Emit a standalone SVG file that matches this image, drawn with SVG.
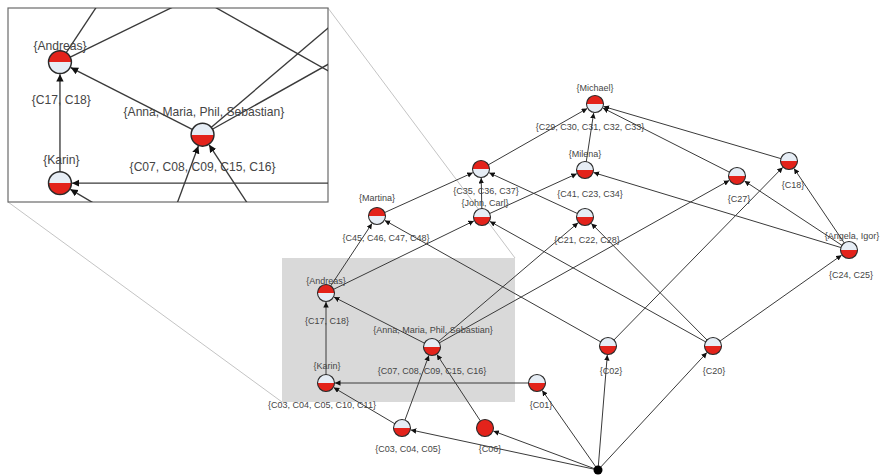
<svg xmlns="http://www.w3.org/2000/svg" width="883" height="476" viewBox="0 0 883 476">
<defs>
<style>
.e{stroke:#3a3a3a;stroke-width:1;fill:none;marker-end:url(#ah)}
.n{stroke:#2a2a2a;stroke-width:1.1}
.t{font-family:"Liberation Sans",Arial,sans-serif;font-size:9px;fill:#454545;text-anchor:middle}
.g{stroke:#c4c4c4;stroke-width:1;fill:none}
</style>
<linearGradient id="redTop" x1="0" y1="0" x2="0" y2="1">
<stop offset="0" stop-color="#e3231b"/><stop offset="0.5" stop-color="#e3231b"/><stop offset="0.5" stop-color="#e6edf5"/><stop offset="1" stop-color="#e6edf5"/>
</linearGradient>
<linearGradient id="redBot" x1="0" y1="0" x2="0" y2="1">
<stop offset="0" stop-color="#e6edf5"/><stop offset="0.5" stop-color="#e6edf5"/><stop offset="0.5" stop-color="#e3231b"/><stop offset="1" stop-color="#e3231b"/>
</linearGradient>
<marker id="ah" markerUnits="userSpaceOnUse" markerWidth="6" markerHeight="6" refX="5.5" refY="2.75" orient="auto">
<path d="M0,0 L5.5,2.75 L0,5.5 z" fill="#111"/>
</marker>
<clipPath id="insetClip"><rect x="8" y="8" width="320" height="194"/></clipPath>
</defs>

<rect id="focus-area" x="282" y="258" width="233" height="144" fill="#d9d9d9"/>
<g id="zoom-guides">
<line class="g" x1="328" y1="8" x2="515" y2="258"/>
<line class="g" x1="8" y1="202" x2="282" y2="402"/>
</g>

<g id="connectors">
<line class="e" x1="598" y1="470" x2="410.8" y2="429.9"/>
<line class="e" x1="598" y1="470" x2="493.4" y2="431.1"/>
<line class="e" x1="598" y1="470" x2="542.2" y2="390.4"/>
<line class="e" x1="598" y1="470" x2="607.3" y2="355"/>
<line class="e" x1="598" y1="470" x2="706.9" y2="352.6"/>
<line class="e" x1="402" y1="428" x2="333.7" y2="387.6"/>
<line class="e" x1="402" y1="428" x2="428.9" y2="355.4"/>
<line class="e" x1="485" y1="428" x2="436.9" y2="354.5"/>
<line class="e" x1="537" y1="383" x2="335" y2="383"/>
<line class="e" x1="326" y1="383" x2="326" y2="302"/>
<line class="e" x1="432" y1="347" x2="334" y2="297.1"/>
<line class="e" x1="432" y1="347" x2="578.1" y2="222.8"/>
<line class="e" x1="432" y1="347" x2="729.2" y2="180.4"/>
<line class="e" x1="326" y1="293" x2="372" y2="223.5"/>
<line class="e" x1="326" y1="293" x2="473.9" y2="220.9"/>
<line class="e" x1="608" y1="346" x2="384.8" y2="220.4"/>
<line class="e" x1="608" y1="346" x2="782.7" y2="167.4"/>
<line class="e" x1="713" y1="346" x2="489.9" y2="221.4"/>
<line class="e" x1="713" y1="346" x2="591.3" y2="223.4"/>
<line class="e" x1="713" y1="346" x2="841.6" y2="255.2"/>
<line class="e" x1="482" y1="217" x2="481.2" y2="178"/>
<line class="e" x1="482" y1="217" x2="576.8" y2="173.7"/>
<line class="e" x1="585" y1="217" x2="489.2" y2="172.8"/>
<line class="e" x1="377" y1="216" x2="472.8" y2="172.7"/>
<line class="e" x1="849" y1="250" x2="593.6" y2="172.6"/>
<line class="e" x1="849" y1="250" x2="744.5" y2="181"/>
<line class="e" x1="849" y1="250" x2="794" y2="168.5"/>
<line class="e" x1="481" y1="169" x2="587.2" y2="108.5"/>
<line class="e" x1="585" y1="170" x2="593.7" y2="112.9"/>
<line class="e" x1="737" y1="176" x2="603" y2="108.1"/>
<line class="e" x1="789" y1="161" x2="603.6" y2="106.5"/>
</g>

<g id="node-michael"><circle class="n" cx="595" cy="104" r="8.5" fill="url(#redTop)"/><text class="t" x="595" y="91">{Michael}</text><text class="t" x="590" y="130">{C29, C30, C31, C32, C33}</text></g>
<g id="node-milena"><circle class="n" cx="585" cy="170" r="8.5" fill="url(#redBot)"/><text class="t" x="585" y="157">{Milena}</text><text class="t" x="590" y="197">{C41, C23, C34}</text></g>
<g id="node-c35"><circle class="n" cx="481" cy="169" r="8.5" fill="url(#redTop)"/><text class="t" x="486" y="194">{C35, C36, C37}</text></g>
<g id="node-john-carl"><circle class="n" cx="482" cy="217" r="8.5" fill="url(#redBot)"/><text class="t" x="485" y="206">{John, Carl}</text></g>
<g id="node-c21"><circle class="n" cx="585" cy="217" r="8.5" fill="url(#redBot)"/><text class="t" x="587" y="243">{C21, C22, C28}</text></g>
<g id="node-martina"><circle class="n" cx="377" cy="216" r="8.5" fill="url(#redTop)"/><text class="t" x="377" y="201">{Martina}</text><text class="t" x="386" y="241">{C45, C46, C47, C48}</text></g>
<g id="node-andreas"><circle class="n" cx="326" cy="293" r="8.5" fill="url(#redTop)"/><text class="t" x="326" y="284">{Andreas}</text><text class="t" x="327" y="324">{C17, C18}</text></g>
<g id="node-anna"><circle class="n" cx="432" cy="347" r="8.5" fill="url(#redBot)"/><text class="t" x="433" y="333">{Anna, Maria, Phil, Sebastian}</text><text class="t" x="432" y="374">{C07, C08, C09, C15, C16}</text></g>
<g id="node-karin"><circle class="n" cx="326" cy="383" r="8.5" fill="url(#redBot)"/><text class="t" x="327" y="369">{Karin}</text><text class="t" x="322" y="408">{C03, C04, C05, C10, C11}</text></g>
<g id="node-c03"><circle class="n" cx="402" cy="428" r="8.5" fill="url(#redBot)"/><text class="t" x="408" y="452">{C03, C04, C05}</text></g>
<g id="node-c06"><circle class="n" cx="485" cy="428" r="8.5" fill="#e3231b"/><text class="t" x="490" y="452">{C06}</text></g>
<g id="node-c01"><circle class="n" cx="537" cy="383" r="8.5" fill="url(#redBot)"/><text class="t" x="541" y="408">{C01}</text></g>
<g id="node-c02"><circle class="n" cx="608" cy="346" r="8.5" fill="url(#redBot)"/><text class="t" x="611" y="374">{C02}</text></g>
<g id="node-c20"><circle class="n" cx="713" cy="346" r="8.5" fill="url(#redBot)"/><text class="t" x="714" y="374">{C20}</text></g>
<g id="node-c27"><circle class="n" cx="737" cy="176" r="8.5" fill="url(#redBot)"/><text class="t" x="739" y="202">{C27}</text></g>
<g id="node-c18"><circle class="n" cx="789" cy="161" r="8.5" fill="url(#redBot)"/><text class="t" x="793" y="188">{C18}</text></g>
<g id="node-angela-igor"><circle class="n" cx="849" cy="250" r="8.5" fill="url(#redBot)"/><text class="t" x="852" y="239">{Angela, Igor}</text><text class="t" x="851" y="278">{C24, C25}</text></g>
<g id="node-bottom"><circle cx="598" cy="470" r="4.5" fill="#000"/></g>

<g id="inset">
<rect x="8" y="8" width="320" height="194" fill="#fff" stroke="#6a6a6a" stroke-width="1.2"/>
<g clip-path="url(#insetClip)">
<g transform="matrix(1.345 0 0 1.345 -378.5 -332)">
<g id="inset-connectors">
<line class="e" x1="402" y1="428" x2="333.7" y2="387.6"/>
<line class="e" x1="402" y1="428" x2="428.9" y2="355.4"/>
<line class="e" x1="485" y1="428" x2="436.9" y2="354.5"/>
<line class="e" x1="537" y1="383" x2="335" y2="383"/>
<line class="e" x1="326" y1="383" x2="326" y2="302"/>
<line class="e" x1="432" y1="347" x2="334" y2="297.1"/>
<line class="e" x1="432" y1="347" x2="578.1" y2="222.8"/>
<line class="e" x1="432" y1="347" x2="729.2" y2="180.4"/>
<line class="e" x1="326" y1="293" x2="372" y2="223.5"/>
<line class="e" x1="326" y1="293" x2="473.9" y2="220.9"/>
<line class="e" x1="608" y1="346" x2="384.8" y2="220.4"/>
<line class="e" x1="713" y1="346" x2="489.9" y2="221.4"/>
</g>
<g id="inset-node-andreas"><circle class="n" cx="326" cy="293" r="8.5" fill="url(#redTop)"/><text class="t" x="326" y="284">{Andreas}</text><text class="t" x="327" y="324">{C17, C18}</text></g>
<g id="inset-node-anna"><circle class="n" cx="432" cy="347" r="8.5" fill="url(#redBot)"/><text class="t" x="433" y="333">{Anna, Maria, Phil, Sebastian}</text><text class="t" x="432" y="374">{C07, C08, C09, C15, C16}</text></g>
<g id="inset-node-karin"><circle class="n" cx="326" cy="383" r="8.5" fill="url(#redBot)"/><text class="t" x="327" y="369">{Karin}</text></g>
</g>
</g>
</g>
</svg>
